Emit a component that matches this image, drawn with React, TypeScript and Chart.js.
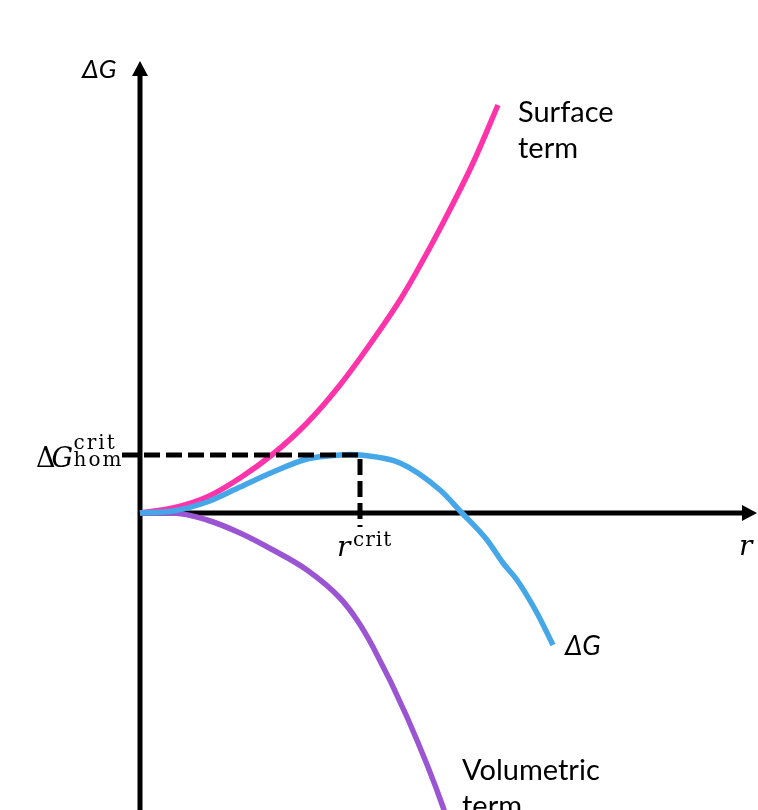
import React, { useEffect, useRef } from "react";
import Chart from "chart.js/auto";

// radius and free-energy readings, arbitrary units (r_crit ~ 2.2)
const surfaceR = [0, 0.33, 0.67, 1.0, 1.33, 1.67, 2.0, 2.33, 2.6, 2.77, 3.03, 3.33, 3.58];
const surfaceG = [0, 0.05, 0.16, 0.35, 0.59, 0.9, 1.28, 1.73, 2.13, 2.42, 2.9, 3.5, 4.08];

const deltaR = [0, 0.33, 0.67, 1.0, 1.33, 1.67, 2.0, 2.1, 2.2, 2.6, 3.0, 3.22, 3.47, 3.63, 3.77, 3.97, 4.13];
const deltaG = [0, 0.02, 0.11, 0.26, 0.41, 0.54, 0.58, 0.585, 0.58, 0.5, 0.23, 0, -0.27, -0.5, -0.67, -1.0, -1.32];

const volumeR = [0, 0.33, 0.67, 1.0, 1.33, 1.67, 2.0, 2.17, 2.33, 2.67, 3.03, 3.08];
const volumeG = [0, 0, -0.07, -0.2, -0.37, -0.57, -0.85, -1.07, -1.34, -2.04, -2.94, -3.1];

const critR = 2.2;
const critG = 0.58;

const X_MIN = -1.4;
const X_MAX = 6.18;
const Y_MIN = -2.97;
const Y_MAX = 5.13;

const SANS = "Lato, 'Open Sans', sans-serif";
const SERIF = "'DejaVu Serif', serif";

const toPoints = (xs: number[], ys: number[]) => xs.map((x, i) => ({ x, y: ys[i] }));

const axesPlugin = {
  id: "axesArrows",
  beforeDatasetsDraw(chart: any) {
    const { ctx } = chart;
    const { x, y } = chart.scales;
    const x0 = x.getPixelForValue(0);
    const y0 = y.getPixelForValue(0);
    const yTip = y.getPixelForValue(4.52);
    const xTip = x.getPixelForValue(6.17);
    ctx.save();
    ctx.strokeStyle = "#000";
    ctx.fillStyle = "#000";
    ctx.lineWidth = 5;
    ctx.beginPath();
    ctx.moveTo(x0, chart.height + 5);
    ctx.lineTo(x0, yTip + 10);
    ctx.moveTo(x0 - 2.5, y0);
    ctx.lineTo(xTip - 10, y0);
    ctx.stroke();
    // arrow heads
    ctx.beginPath();
    ctx.moveTo(x0, yTip);
    ctx.lineTo(x0 - 8, yTip + 15);
    ctx.lineTo(x0 + 8, yTip + 15);
    ctx.closePath();
    ctx.fill();
    ctx.beginPath();
    ctx.moveTo(xTip, y0);
    ctx.lineTo(xTip - 15, y0 - 8);
    ctx.lineTo(xTip - 15, y0 + 8);
    ctx.closePath();
    ctx.fill();
    ctx.restore();
  },
  afterDatasetsDraw(chart: any) {
    const { ctx } = chart;
    const { x, y } = chart.scales;
    const px = (v: number) => x.getPixelForValue(v);
    const py = (v: number) => y.getPixelForValue(v);
    ctx.save();
    ctx.fillStyle = "#000";
    ctx.textBaseline = "alphabetic";
    ctx.textAlign = "left";

    // y axis title
    ctx.font = `italic 26px ${SANS}`;
    ctx.fillText("ΔG", px(-0.58), py(4.35));
    // x axis title
    ctx.font = `italic 28px ${SERIF}`;
    ctx.fillText("r", px(5.99), py(-0.42));

    // ΔG_hom^crit on the y axis
    const gy = py(critG);
    ctx.font = `27px ${SERIF}`;
    ctx.fillText("Δ", px(-1.04), gy + 12);
    ctx.font = `italic 27px ${SERIF}`;
    ctx.fillText("G", px(-0.885), gy + 12);
    ctx.font = `20px ${SERIF}`;
    (ctx as any).letterSpacing = "2px";
    ctx.fillText("crit", px(-0.665), gy - 6);
    ctx.fillText("hom", px(-0.665), gy + 11);

    // r^crit under the x axis
    const rx = px(critR);
    (ctx as any).letterSpacing = "0px";
    ctx.font = `italic 28px ${SERIF}`;
    ctx.fillText("r", rx - 23, py(-0.43));
    ctx.font = `20px ${SERIF}`;
    (ctx as any).letterSpacing = "1px";
    ctx.fillText("crit", rx - 7, py(-0.33));
    (ctx as any).letterSpacing = "0px";

    // curve labels
    ctx.font = `29px ${SANS}`;
    ctx.fillText("Surface", px(3.78), py(3.91));
    ctx.fillText("term", px(3.78), py(3.55));
    ctx.fillText("Volumetric", px(3.22), py(-2.67));
    ctx.fillText("term", px(3.22), py(-3.03));
    ctx.font = `italic 27px ${SANS}`;
    ctx.fillText("ΔG", px(4.25), py(-1.42));
    ctx.restore();
  },
};

export default function App() {
  const chartRef = useRef<HTMLCanvasElement>(null) as any;
  const chartInstance = useRef<any>(null);

  useEffect(() => {
    if (chartInstance.current) {
      chartInstance.current.destroy();
    }
    const myChartRef = chartRef.current?.getContext("2d");

    chartInstance.current = new Chart(myChartRef, {
      type: "line",
      data: {
        datasets: [
          {
            label: "Critical point",
            data: [
              { x: -0.18, y: critG },
              { x: critR, y: critG },
              { x: critR, y: -0.14 },
            ],
            borderColor: "#000",
            borderWidth: 5,
            borderDash: [16, 6],
            pointRadius: 0,
            tension: 0,
            order: 0,
          },
          {
            label: "Surface term",
            data: toPoints(surfaceR, surfaceG),
            borderColor: "#ff33aa",
            borderWidth: 5.5,
            pointRadius: 0,
            cubicInterpolationMode: "monotone",
            order: 2,
          },
          {
            label: "Volumetric term",
            data: toPoints(volumeR, volumeG),
            borderColor: "#9b55d3",
            borderWidth: 5.5,
            pointRadius: 0,
            cubicInterpolationMode: "monotone",
            order: 3,
          },
          {
            label: "ΔG",
            data: toPoints(deltaR, deltaG),
            borderColor: "#45a6e8",
            borderWidth: 5.5,
            pointRadius: 0,
            cubicInterpolationMode: "monotone",
            order: 1,
          },
        ],
      },
      options: {
        animation: false,
        responsive: false,
        events: [],
        layout: { padding: 0 },
        plugins: {
          legend: { display: false },
          tooltip: { enabled: false },
        },
        scales: {
          x: { type: "linear", min: X_MIN, max: X_MAX, display: false },
          y: { type: "linear", min: Y_MIN, max: Y_MAX, display: false },
        },
      },
      plugins: [axesPlugin],
    } as any);

    return () => {
      if (chartInstance.current) {
        chartInstance.current.destroy();
      }
    };
  }, []);

  return (
    <div style={{ position: "fixed", left: 0, top: 0, width: 758, height: 810, background: "#fff" }}>
      <canvas ref={chartRef} width={758} height={810}></canvas>
    </div>
  );
}
